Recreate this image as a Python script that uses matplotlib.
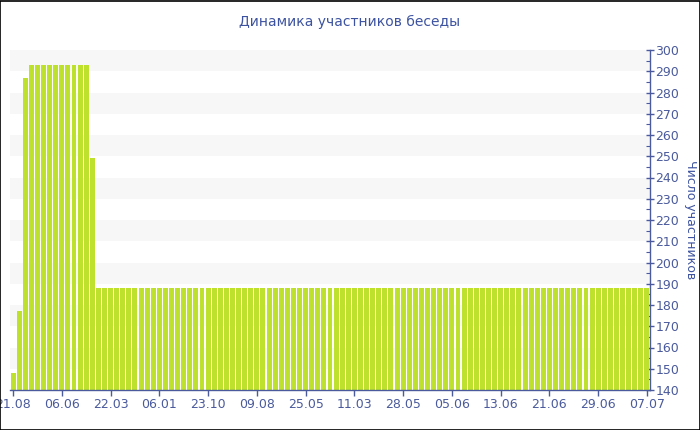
import matplotlib
matplotlib.use("Agg")
import matplotlib.pyplot as plt
from matplotlib.patches import Rectangle
import numpy as np

title = "Динамика участников беседы"
y_label = "Число участников"

# values per bar
members = ([148, 177, 287] + [293] * 10 + [249] + [188] * 91)
tick_labels = ["21.08", "06.06", "22.03", "06.01", "23.10", "09.08", "25.05",
               "11.03", "28.05", "05.06", "13.06", "21.06", "29.06", "07.07"]
tick_step = 8

bar_color = "#bde12d"
axis_color = "#4a5a9c"
text_color = "#3d53a0"

fig = plt.figure(figsize=(7, 4.3), dpi=100)
ax = fig.add_axes([10 / 700, 40 / 430, 640 / 700, 340 / 430])

x = np.arange(len(members))
ax.set_ylim(140, 300)
ax.set_xlim(-0.5, len(members) - 0.5)

# alternating bands
for lo in range(150, 300, 20):
    ax.axhspan(lo, lo + 10, color="#f7f7f7", lw=0, zorder=0)

ax.bar(x, np.array(members) - 140, bottom=140, width=0.82, color=bar_color,
       edgecolor="none", zorder=2)

ax.yaxis.tick_right()
ax.yaxis.set_label_position("right")
ax.set_yticks(np.arange(140, 301, 10))
ax.set_yticks(np.arange(145, 300, 10), minor=True)
ax.tick_params(axis="y", which="major", direction="inout", length=6, width=1,
               colors=axis_color, labelsize=9, pad=1)
ax.tick_params(axis="y", which="minor", direction="in", length=3, width=0.8,
               colors=axis_color)

ax.set_xticks(x[::tick_step])
ax.set_xticklabels(tick_labels)
ax.tick_params(axis="x", direction="out", length=4, width=1, colors=axis_color,
               labelsize=9, pad=2)

for s in ["top", "left"]:
    ax.spines[s].set_visible(False)
for s in ["bottom", "right"]:
    ax.spines[s].set_color(axis_color)
    ax.spines[s].set_linewidth(1)

ax.set_ylabel(y_label, rotation=270, color=text_color, fontsize=9, labelpad=13)
fig.text(350 / 700, 1 - 22 / 430, title, ha="center", va="center",
         color=text_color, fontsize=10)

# frame around the whole picture
fig.patches.append(Rectangle((0.0007, 0.001), 0.9986, 0.997, transform=fig.transFigure,
                             fill=False, edgecolor="black", lw=1.2))

fig.savefig("out.png", dpi=100)
